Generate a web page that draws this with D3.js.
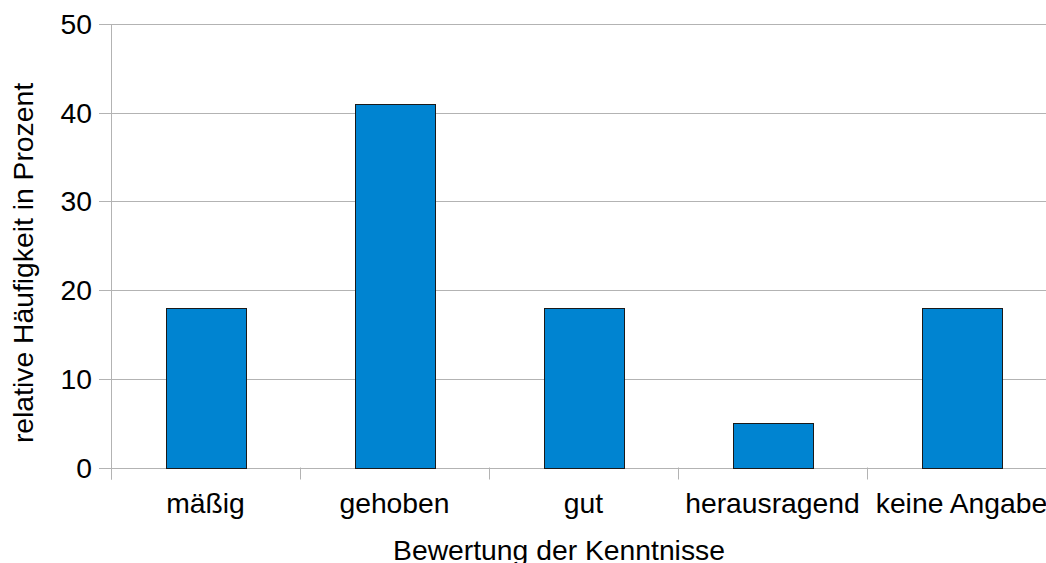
<!DOCTYPE html>
<html>
<head>
<meta charset="utf-8">
<script src="https://cdn.jsdelivr.net/npm/d3@7"></script>
<style>
  html, body { margin: 0; padding: 0; background: #fff; overflow: hidden; }
  text { font-family: "Liberation Sans", Arial, sans-serif; fill: #000; }
</style>
</head>
<body>
<svg id="chart" width="1046" height="563"></svg>
<script>
// Bewertung der Kenntnisse – relative Häufigkeit in Prozent
const categories = ["mäßig", "gehoben", "gut", "herausragend", "keine Angabe"];
const values = [18, 41, 18, 5, 18];
const yTicks = [0, 10, 20, 30, 40, 50];
const xTitle = "Bewertung der Kenntnisse";
const yTitle = "relative Häufigkeit in Prozent";

const svg = d3.select("#chart");
const plotLeft = 111, plotRight = 1056, plotTop = 24, plotBottom = 467.5;
const fontSize = 28.3;

const y = d3.scaleLinear().domain([0, 50]).range([plotBottom, plotTop]);
// category slots (tick marks sit on slot boundaries)
const slot = d3.scaleBand().domain(categories).range([plotLeft, plotRight]).padding(0);
// bars centred in their slots
const x = d3.scaleBand().domain(categories).range([plotLeft, plotRight])
  .paddingInner(0.577).paddingOuter(0.2885);

const grid = "#b3b3b3";

// horizontal grid lines
svg.append("g").selectAll("line").data(yTicks).join("line")
  .attr("x1", plotLeft - 12).attr("x2", plotRight)
  .attr("y1", d => Math.round(y(d)) + 0.5).attr("y2", d => Math.round(y(d)) + 0.5)
  .attr("stroke", grid).attr("stroke-width", 1);

// y axis line
svg.append("line")
  .attr("x1", plotLeft + 0.5).attr("x2", plotLeft + 0.5)
  .attr("y1", plotTop).attr("y2", plotBottom + 12)
  .attr("stroke", grid);

// category tick marks
const bounds = categories.map(c => slot(c)).concat([plotRight]);
svg.append("g").selectAll("line").data(bounds).join("line")
  .attr("x1", d => Math.round(d) + 0.5).attr("x2", d => Math.round(d) + 0.5)
  .attr("y1", plotBottom).attr("y2", plotBottom + 12)
  .attr("stroke", grid);

// bars
svg.append("g").selectAll("rect").data(values).join("rect")
  .attr("x", (d, i) => Math.round(x(categories[i])) + 0.5)
  .attr("y", d => Math.round(y(d)) + 0.5)
  .attr("width", Math.round(x.bandwidth()))
  .attr("height", d => Math.round(y(0)) - Math.round(y(d)))
  .attr("fill", "#0084d1")
  .attr("stroke", "#1a1a1a").attr("stroke-width", 1);

// y tick labels
svg.append("g").selectAll("text").data(yTicks).join("text")
  .attr("x", 92).attr("y", d => y(d))
  .attr("dy", "0.355em")
  .attr("text-anchor", "end")
  .attr("font-size", fontSize)
  .text(d => d);

// x tick labels
svg.append("g").selectAll("text").data(categories).join("text")
  .attr("x", d => slot(d) + slot.bandwidth() / 2).attr("y", 513)
  .attr("text-anchor", "middle")
  .attr("font-size", fontSize)
  .text(d => d);

// axis titles
svg.append("text")
  .attr("x", 559).attr("y", 560)
  .attr("text-anchor", "middle").attr("font-size", fontSize)
  .text(xTitle);

svg.append("text")
  .attr("transform", "translate(33,263) rotate(-90)")
  .attr("text-anchor", "middle").attr("font-size", fontSize)
  .text(yTitle);
</script>
</body>
</html>
